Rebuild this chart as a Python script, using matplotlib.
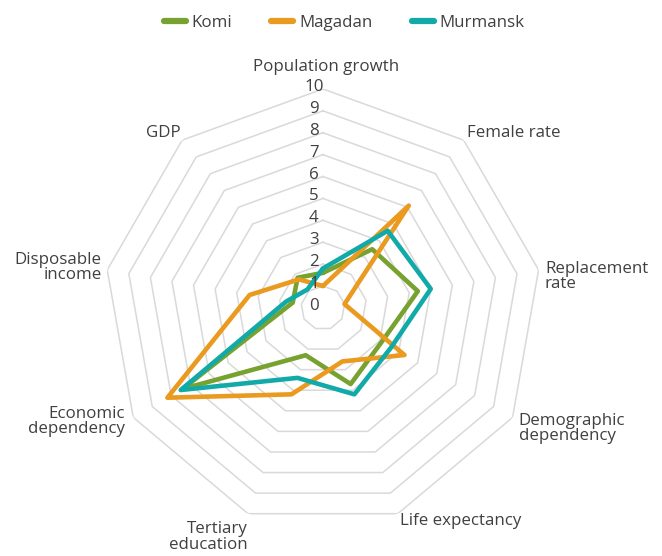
import numpy as np
import matplotlib
matplotlib.use("Agg")
import matplotlib.pyplot as plt

plt.rcParams['font.family'] = ['Open Sans', 'DejaVu Sans']

# axes of the radar, clockwise from the top
categories = ["Population growth", "Female rate", "Replacement\nrate",
              "Demographic\ndependency", "Life expectancy", "Tertiary\neducation",
              "Economic\ndependency", "Disposable\nincome", "GDP"]

komi = [1.6, 3.5, 4.4, 3.1, 3.7, 2.3, 7.4, 1.4, 1.8]
magadan = [1.0, 6.1, 1.0, 4.3, 2.6, 4.2, 8.2, 3.4, 1.7]
murmansk = [1.8, 4.6, 5.0, 3.6, 4.2, 3.4, 7.5, 1.7, 1.1]

levels = list(range(0, 11))

green = "#77A22F"
orange = "#E99A1F"
teal = "#12AAA8"
txt = "#404040"
fs = 12.2

n = len(categories)
angles = np.linspace(0, 2 * np.pi, n, endpoint=False)
closed = np.append(angles, angles[0])

fig = plt.figure(figsize=(6.62, 5.56), dpi=100)
ax = fig.add_axes([0.157, 0.0522, 0.6616, 0.788], projection='polar')
ax.set_theta_zero_location('N')
ax.set_theta_direction(-1)
ax.set_ylim(0, 10)
ax.grid(False)
ax.spines['polar'].set_visible(False)
ax.set_xticks([])
ax.set_yticks([])
ax.patch.set_alpha(0)

# polygon gridlines
for k in levels[1:]:
    ax.plot(closed, [k] * (n + 1), color="#D9D9D9", lw=1.1, zorder=1)

# radial tick labels
for k in levels:
    ax.annotate(str(k), xy=(0, k), xytext=(-9, 2), textcoords='offset pixels',
                ha='center', va='center', fontsize=fs, color=txt, zorder=5)

for vals, col, name in [(komi, green, "Komi"), (magadan, orange, "Magadan"),
                        (murmansk, teal, "Murmansk")]:
    ax.plot(closed, vals + vals[:1], color=col, lw=3.3, label=name,
            solid_joinstyle='round', solid_capstyle='round', zorder=3)

# category labels: (radius, horizontal alignment, angle tweak in degrees)
label_pos = [(11.0, 'center', 0.7), (10.35, 'left', -0.6), (10.24, 'left', 2.0),
             (10.5, 'left', 1.7), (10.34, 'left', 0.1), (11.0, 'right', -1.9),
             (10.43, 'right', 0.1), (10.26, 'right', 0.3), (10.3, 'right', 0.9)]
for a, lab, (r, ha, dt) in zip(angles, categories, label_pos):
    ax.text(a + np.deg2rad(dt), r, lab, ha=ha, va='center', fontsize=fs,
            color=txt, multialignment=ha if ha != 'center' else 'center',
            linespacing=0.95)

leg = fig.legend(loc='upper center', bbox_to_anchor=(0.52, 1.0), ncol=3, frameon=False,
                 fontsize=fs, handlelength=1.3, columnspacing=2.3, handletextpad=0.35,
                 labelcolor=txt)
for h in leg.get_lines():
    h.set_linewidth(4.5)

fig.savefig("out.png", dpi=100)
